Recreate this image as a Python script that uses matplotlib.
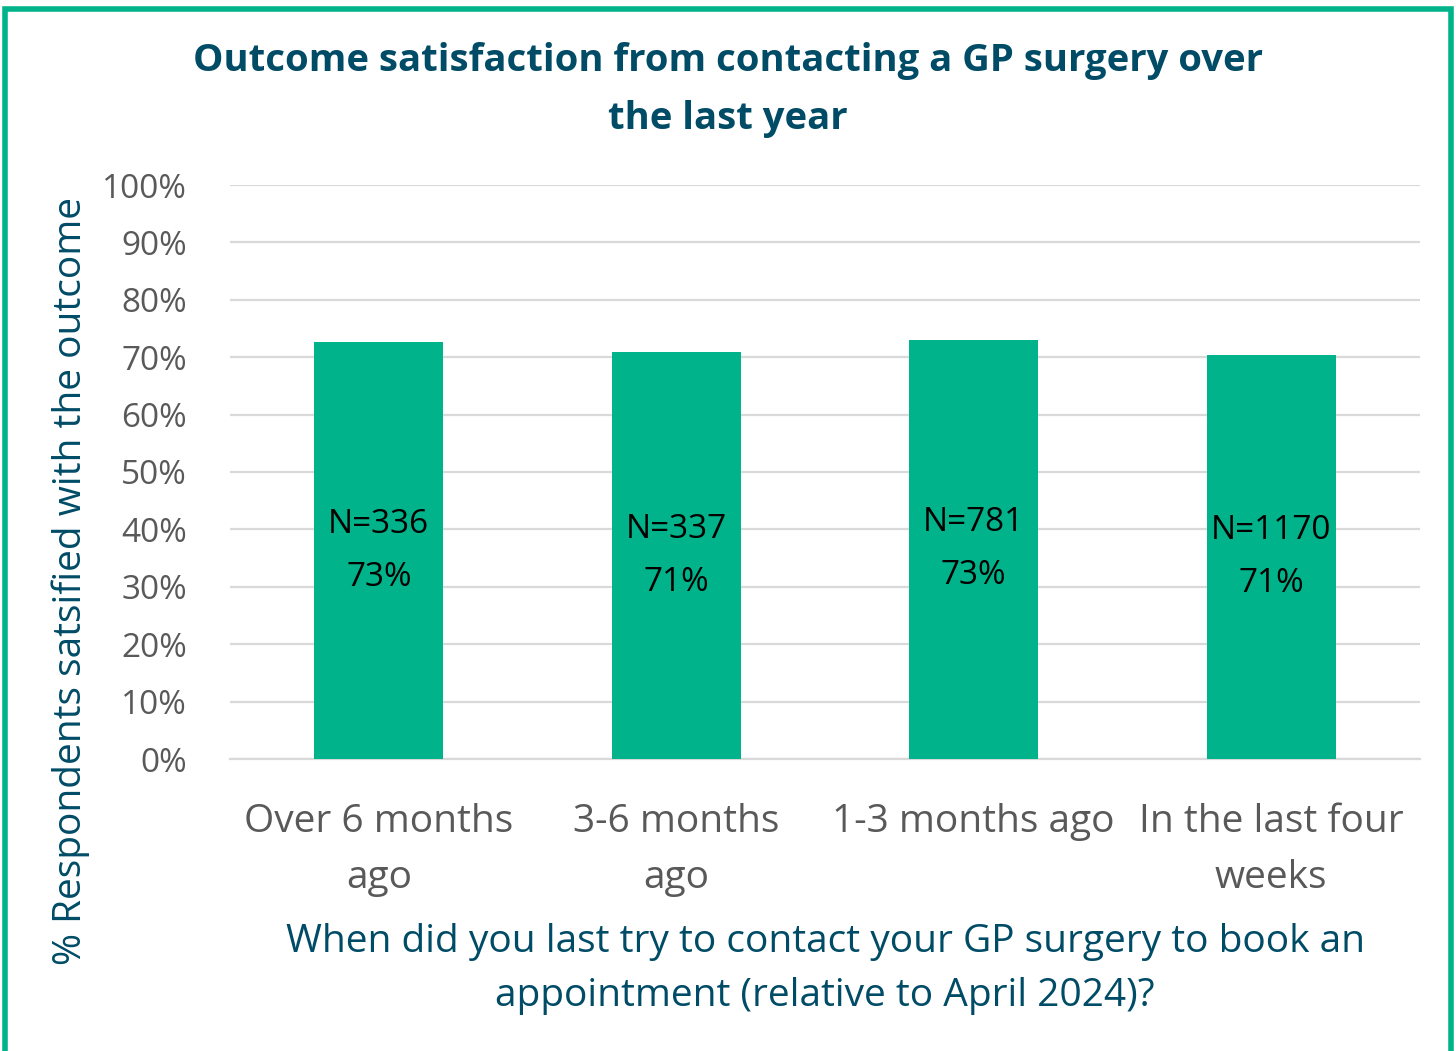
import matplotlib
matplotlib.use('Agg')
import matplotlib.pyplot as plt
from matplotlib.patches import Rectangle

plt.rcParams['font.family'] = ['Open Sans', 'DejaVu Sans']

# 数据
categories = ['Over 6 months\nago', '3-6 months\nago', '1-3 months ago', 'In the last four\nweeks']
satisfied_pct = [72.6, 70.9, 73.0, 70.4]
n_counts = [336, 337, 781, 1170]
pct_labels = ['73%', '71%', '73%', '71%']

green = '#00B38A'
teal = '#004B66'
grey_text = '#595959'

fig = plt.figure(figsize=(14.56, 10.51), dpi=100)
ax = fig.add_axes([230 / 1456, 1 - 759 / 1051, 1190 / 1456, 574 / 1051])

x = range(len(categories))
ax.bar(x, satisfied_pct, width=0.434, color=green, zorder=3)

# 柱内标签
for i, (v, n, p) in enumerate(zip(satisfied_pct, n_counts, pct_labels)):
    ax.text(i, v / 2, f"N={n}\n{p}", ha='center', va='center', fontsize=24,
            color='black', linespacing=1.8, zorder=4)

ax.set_xlim(-0.5, len(categories) - 0.5)
ax.set_ylim(0, 100)
ax.set_yticks(range(0, 101, 10))
ax.set_yticklabels([f"{t}%" for t in range(0, 101, 10)])
ax.set_xticks(list(x))
ax.set_xticklabels(categories, linespacing=1.59)
ax.tick_params(axis='y', length=0, pad=31, labelsize=24, labelcolor=grey_text)
ax.tick_params(axis='x', length=0, pad=32, labelsize=28, labelcolor=grey_text)

ax.grid(axis='y', color='#D9D9D9', linewidth=1.6, zorder=0)
for s in ['top', 'right', 'left']:
    ax.spines[s].set_visible(False)
ax.spines['bottom'].set_color('#D9D9D9')
ax.spines['bottom'].set_linewidth(1.6)

ax.set_xlabel('When did you last try to contact your GP surgery to book an\nappointment (relative to April 2024)?',
              fontsize=28, color=teal, linespacing=1.54, labelpad=19)
ax.set_ylabel('% Respondents satsified with the outcome', fontsize=28, color=teal)
ax.yaxis.set_label_coords(-140 / 1190, 0.31)

fig.text(728 / 1456, 1 - 90 / 1051,
         'Outcome satisfaction from contacting a GP surgery over\nthe last year',
         ha='center', va='center', fontsize=27.5, fontweight='bold', color=teal, linespacing=1.68)

# 外框（底边在画面外）
fig.patches.append(Rectangle((5 / 1456, -0.02), 1446 / 1456, 1.02 - 9 / 1051, transform=fig.transFigure,
                             fill=False, edgecolor=green, linewidth=4))

fig.savefig('out.png', dpi=100)
plt.close(fig)
